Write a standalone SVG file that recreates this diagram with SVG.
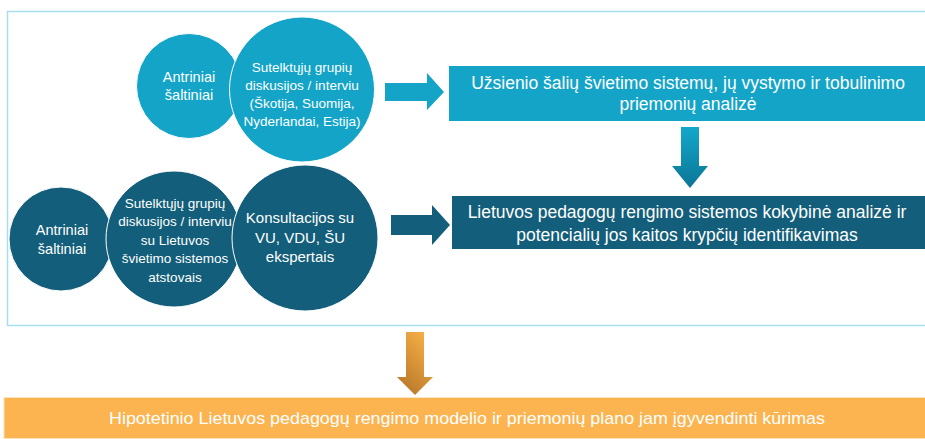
<svg xmlns="http://www.w3.org/2000/svg" width="925" height="439" viewBox="0 0 925 439">
<defs>
<style>
.t{font-family:"Liberation Sans",Arial,sans-serif;fill:#fff;text-anchor:middle}
.lb{fill:#13A4C8}
.dk{fill:#135E7A}
.cl{stroke:#fff;stroke-width:1}
</style>
<linearGradient id="gDown" x1="0" y1="0" x2="0" y2="1">
<stop offset="0" stop-color="#14A8CC"/>
<stop offset="1" stop-color="#0B7595"/>
</linearGradient>
<linearGradient id="gOr" x1="0.8" y1="0" x2="0.2" y2="1">
<stop offset="0" stop-color="#F8B045"/>
<stop offset="1" stop-color="#B6762A"/>
</linearGradient>
</defs>
<rect x="0" y="0" width="925" height="439" fill="#fff"/>
<rect id="frame" x="7.5" y="11.5" width="930" height="314" fill="none" stroke="#A9DDF0" stroke-width="1.5"/>

<g id="top-antriniai">
<circle class="lb cl" cx="189" cy="86" r="52.5"/>
<text class="t" font-size="14.5"><tspan x="189" y="82">Antriniai</tspan><tspan x="189" y="100">šaltiniai</tspan></text>
</g>
<g id="top-grupes">
<circle class="lb cl" cx="302" cy="89.5" r="72.5"/>
<text class="t" font-size="13.5"><tspan x="302" y="72">Sutelktųjų grupių</tspan><tspan x="302" y="90">diskusijos / interviu</tspan><tspan x="302" y="108">(Škotija, Suomija,</tspan><tspan x="302" y="126">Nyderlandai, Estija)</tspan></text>
</g>

<g id="bot-antriniai">
<circle class="dk cl" cx="61" cy="239" r="52"/>
<text class="t" font-size="14.5"><tspan x="62" y="235">Antriniai</tspan><tspan x="62" y="254">šaltiniai</tspan></text>
</g>
<g id="bot-grupes">
<circle class="dk cl" cx="174" cy="239" r="68"/>
<text class="t" font-size="13.5"><tspan x="175" y="208">Sutelktųjų grupių</tspan><tspan x="175" y="226">diskusijos / interviu</tspan><tspan x="175" y="245">su Lietuvos</tspan><tspan x="175" y="263">švietimo sistemos</tspan><tspan x="175" y="282">atstovais</tspan></text>
</g>
<g id="bot-konsultacijos">
<circle class="dk cl" cx="305" cy="238" r="73"/>
<text class="t" font-size="15"><tspan x="300" y="223">Konsultacijos su</tspan><tspan x="300" y="243">VU, VDU, ŠU</tspan><tspan x="300" y="262">ekspertais</tspan></text>
</g>

<g id="box-uzsienio">
<rect class="lb" x="449" y="66" width="476" height="55"/>
<text class="t" font-size="17.5"><tspan x="688" y="89">Užsienio šalių švietimo sistemų, jų vystymo ir tobulinimo</tspan><tspan x="688" y="110">priemonių analizė</tspan></text>
</g>
<g id="box-lietuvos">
<rect class="dk" x="452" y="196" width="473" height="53"/>
<text class="t" font-size="17.5"><tspan x="687" y="218">Lietuvos pedagogų rengimo sistemos kokybinė analizė ir</tspan><tspan x="687" y="241">potencialių jos kaitos krypčių identifikavimas</tspan></text>
</g>
<g id="box-hipotetinio">
<rect x="4" y="397.5" width="925" height="41" fill="#FBB44F" stroke="#FDE3BC" stroke-width="1"/>
<text class="t" font-size="17" x="467" y="424" textLength="716" lengthAdjust="spacingAndGlyphs">Hipotetinio Lietuvos pedagogų rengimo modelio ir priemonių plano jam įgyvendinti kūrimas</text>
</g>

<g id="connectors">
<polygon class="lb" points="385,83 427,83 427,73 444,92 427,110 427,101 385,101"/>
<polygon class="dk" points="391,215 432,215 432,205 450,225 432,245 432,235 391,235"/>
<polygon fill="url(#gDown)" points="681,127 699,127 699,166 708,166 690,188 672,166 681,166"/>
<polygon fill="url(#gOr)" points="406,332 424,332 424,377 433,377 415,395 397,377 406,377"/>
</g>
</svg>
